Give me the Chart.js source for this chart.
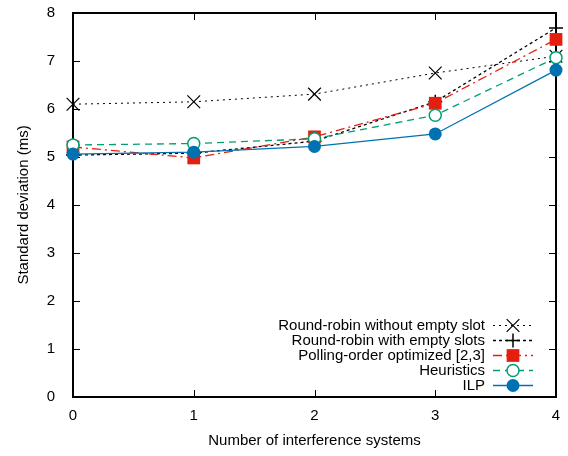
<!DOCTYPE html>
<html>
<head>
<meta charset="utf-8">
<script src="https://cdn.jsdelivr.net/npm/chart.js@4"></script>
<style>
  html, body { margin: 0; padding: 0; background: #fff; }
  #wrap { width: 568px; height: 456px; }
</style>
</head>
<body>
<div id="wrap"><canvas id="lineChart" width="568" height="456"></canvas></div>
<script>
// Datos
var categorias = [0, 1, 2, 3, 4];
var rrSinVacio = [6.10, 6.15, 6.31, 6.75, 7.10];
var rrConVacio = [5.04, 5.08, 5.33, 6.15, 7.69];
var polling = [5.21, 4.98, 5.42, 6.12, 7.45];
var heuristica = [5.25, 5.28, 5.38, 5.87, 7.07];
var ilp = [5.06, 5.10, 5.22, 5.48, 6.81];
var ticksY = [0, 1, 2, 3, 4, 5, 6, 7, 8];

var FONT = 'Liberation Sans, Arial, sans-serif';

function puntos(valores) {
    return valores.map(function (v, i) { return { x: categorias[i], y: v }; });
}

var series = [
    { label: 'Round-robin without empty slot', data: rrSinVacio, color: '#000000', dash: [2, 4], width: 1,
      style: 'crossRot', radius: 9, fill: 'rgba(0,0,0,0)', bw: 1.2 },
    { label: 'Round-robin with empty slots', data: rrConVacio, color: '#000000', dash: [3, 3], width: 1.3,
      style: 'cross', radius: 7, fill: 'rgba(0,0,0,0)', bw: 1.5 },
    { label: 'Polling-order optimized [2,3]', data: polling, color: '#e51e10', dash: [9, 4, 2, 4], width: 1.3,
      style: 'rect', radius: 9, fill: '#e51e10', bw: 0 },
    { label: 'Heuristics', data: heuristica, color: '#009e73', dash: [7, 5], width: 1.3,
      style: 'circle', radius: 6, fill: '#ffffff', bw: 1.5 },
    { label: 'ILP', data: ilp, color: '#0072b2', dash: [], width: 1.3,
      style: 'circle', radius: 6.5, fill: '#0072b2', bw: 0 }
];

var datasets = series.map(function (s, i) {
    return {
        label: s.label,
        data: puntos(s.data),
        borderColor: s.color,
        borderWidth: s.width,
        borderDash: s.dash,
        pointStyle: s.style,
        pointRadius: s.radius,
        pointBackgroundColor: s.fill,
        pointBorderColor: s.color,
        pointBorderWidth: s.bw || 0.01,
        tension: 0,
        fill: false,
        clip: false,
        order: series.length - i // ILP queda encima
    };
});

// Marco y marcas hacia dentro, estilo gnuplot
var marco = {
    id: 'marco',
    beforeDatasetsDraw: function (chart) {
        var ctx = chart.ctx, a = chart.chartArea;
        var sx = chart.scales.x, sy = chart.scales.y;
        ctx.save();
        ctx.strokeStyle = '#000';
        ctx.lineWidth = 1;
        ctx.beginPath();
        ticksY.forEach(function (t) {
            var y = Math.round(sy.getPixelForValue(t)) + 0.5;
            ctx.moveTo(a.left, y); ctx.lineTo(a.left + 7, y);
            ctx.moveTo(a.right, y); ctx.lineTo(a.right - 7, y);
        });
        categorias.forEach(function (c) {
            var x = Math.round(sx.getPixelForValue(c)) + 0.5;
            ctx.moveTo(x, a.bottom); ctx.lineTo(x, a.bottom - 7);
            ctx.moveTo(x, a.top); ctx.lineTo(x, a.top + 7);
        });
        ctx.stroke();
        ctx.lineWidth = 2;
        ctx.strokeRect(a.left, a.top, a.right - a.left, a.bottom - a.top);
        ctx.restore();
    }
};

// Leyenda: texto alineado a la derecha y muestra a la derecha
var leyenda = {
    id: 'leyenda',
    afterDraw: function (chart) {
        var ctx = chart.ctx;
        var textoX = 485, x0 = 493, x1 = 533, y0 = 325, paso = 15;
        ctx.save();
        ctx.font = '15px ' + FONT;
        ctx.textAlign = 'right';
        ctx.textBaseline = 'middle';
        series.forEach(function (s, i) {
            var y = y0 + i * paso;
            ctx.fillStyle = '#000';
            ctx.fillText(s.label, textoX, y + 1);
            ctx.strokeStyle = s.color;
            ctx.lineWidth = s.width;
            ctx.setLineDash(s.dash);
            ctx.beginPath();
            ctx.moveTo(x0, y + 0.5); ctx.lineTo(x1, y + 0.5);
            ctx.stroke();
            ctx.setLineDash([]);
            ctx.fillStyle = s.fill;
            ctx.lineWidth = s.bw;
            Chart.helpers.drawPoint(ctx, { pointStyle: s.style, radius: s.radius, borderWidth: s.bw, rotation: 0 },
                (x0 + x1) / 2, y + 0.5);
        });
        ctx.restore();
    }
};

var ctxLine = document.getElementById('lineChart').getContext('2d');
var lineChart = new Chart(ctxLine, {
    type: 'line',
    data: { datasets: datasets },
    plugins: [marco, leyenda],
    options: {
        responsive: false,
        animation: false,
        layout: { padding: { left: 0, right: 12, top: 13, bottom: 0 } },
        plugins: {
            legend: { display: false },
            tooltip: { enabled: false }
        },
        scales: {
            x: {
                type: 'linear',
                min: 0,
                max: 4,
                afterFit: function (scale) {
                    scale.height = 59;
                    scale.paddingLeft = 0;
                    scale.paddingRight = 0;
                },
                grid: { display: false },
                border: { display: false },
                ticks: {
                    stepSize: 1,
                    padding: 2,
                    color: '#000',
                    font: { family: FONT, size: 15 }
                },
                title: {
                    display: true,
                    text: 'Number of interference systems',
                    color: '#000',
                    font: { family: FONT, size: 15 },
                    padding: { top: 0, bottom: 6 }
                }
            },
            y: {
                min: 0,
                max: 8,
                afterFit: function (scale) {
                    scale.width = 73;
                    scale.paddingTop = 0;
                    scale.paddingBottom = 0;
                },
                afterBuildTicks: function (scale) {
                    scale.ticks = ticksY.map(function (v) { return { value: v }; });
                },
                grid: { display: false },
                border: { display: false },
                ticks: {
                    padding: 10,
                    color: '#000',
                    font: { family: FONT, size: 15 }
                },
                title: {
                    display: true,
                    text: 'Standard deviation (ms)',
                    color: '#000',
                    font: { family: FONT, size: 15 },
                    padding: { top: 15, bottom: 0 }
                }
            }
        }
    }
});
</script>
</body>
</html>
